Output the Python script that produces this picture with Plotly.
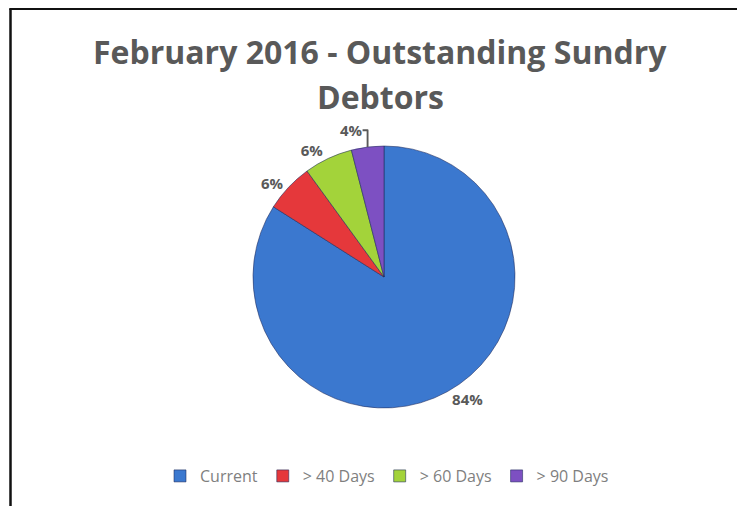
import plotly.graph_objects as go

categories = ["Current", "> 40 Days", "> 60 Days", "> 90 Days"]
values = [84, 6, 6, 4]
colors = ["#3b78cf", "#e5383b", "#a3d33a", "#7d50c2"]
title_lines = ["February 2016 - Outstanding Sundry", "Debtors"]

W, H = 745, 506
OFF = 8  # page body margin offset


def px_x(x):
    return (x - OFF) / W


def px_y(y):
    return 1 - (y - OFF) / H


CX, CY, R = 384, 277, 131

fig = go.Figure()
fig.add_trace(go.Pie(
    labels=categories,
    values=values,
    sort=False,
    direction="clockwise",
    rotation=0,
    marker=dict(colors=colors, line=dict(color="rgba(30,40,90,0.55)", width=1)),
    textinfo="percent",
    texttemplate="%{percent:.0%}",
    textposition="outside",
    outsidetextfont=dict(family="Open Sans", size=15, color="#595959", weight="bold"),
    domain=dict(x=[px_x(CX - R), px_x(CX + R)], y=[px_y(CY + R), px_y(CY - R)]),
    hoverinfo="label+percent",
))

for line, yy in zip(title_lines, [52, 96]):
    fig.add_annotation(text=line, x=px_x(380), y=px_y(yy), xref="paper", yref="paper",
                       showarrow=False, xanchor="center", yanchor="middle",
                       font=dict(family="Open Sans", size=32, color="#595959", weight="bold"))

# frame lines (left and top)
fig.add_shape(type="line", xref="paper", yref="paper",
              x0=px_x(10.5), y0=0, x1=px_x(10.5), y1=px_y(8.8),
              line=dict(color="#111111", width=2.5))
fig.add_shape(type="line", xref="paper", yref="paper",
              x0=px_x(9.3), y0=px_y(8.8), x1=1, y1=px_y(8.8),
              line=dict(color="#111111", width=2.5))

fig.update_layout(
    width=W, height=H,
    margin=dict(l=0, r=0, t=0, b=0),
    paper_bgcolor="white",
    plot_bgcolor="white",
    showlegend=True,
    legend=dict(orientation="h", x=px_x(387), xanchor="center", y=px_y(476), yanchor="middle",
                font=dict(family="Open Sans", size=16, color="#7f7f7f"),
                itemwidth=30,
                itemclick=False, itemdoubleclick=False),
)

fig.write_html("out.html")
